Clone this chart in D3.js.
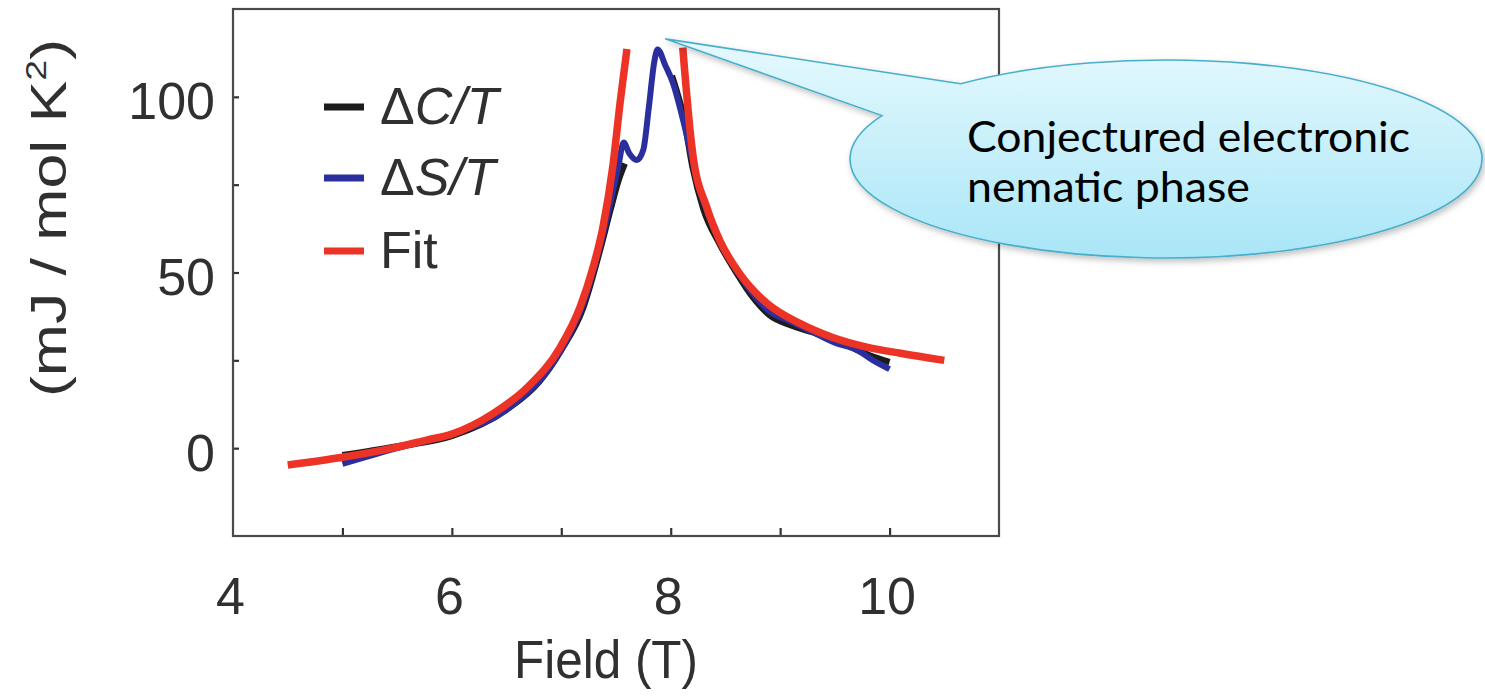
<!DOCTYPE html>
<html><head><meta charset="utf-8">
<script src="https://cdn.jsdelivr.net/npm/d3@7"></script>
<style>html,body{margin:0;padding:0;background:#fff;}</style>
</head><body>
<svg id="chart" width="1485" height="696"></svg>
<script>
// ---- data ----
const xTickLabels = [4, 6, 8, 10];
const xMinorTicks = [5, 6, 7, 8, 9, 10];
const yTickLabels = [0, 50, 100];
const yMinorTicks = [0, 25, 50, 75, 100];

// ΔC/T (null = gap in the measured trace)
const dCField = [5.0, 5.5, 6.0, 6.5, 6.8, 7.0, 7.2, 7.35, 7.45, 7.52, 7.58, null, 8.01, 8.06, 8.12, 8.2, 8.3, 8.45, 8.6, 8.75, 8.9, 9.1, 9.3, 9.5, 9.7, 9.85, 10.0];
const dCValue = [-2.0, 0.5, 3.5, 11, 19, 28, 40, 56, 68, 76, 81, null, 106, 101, 94, 80, 68, 58, 50, 43, 38, 35, 33, 31, 28, 26, 24.5];

const dSField = [5.0, 5.5, 6.0, 6.5, 7.0, 7.2, 7.35, 7.45, 7.52, 7.57, 7.62, 7.69, 7.75, 7.8, 7.85, 7.88, 7.95, 8.02, 8.1, 8.17, 8.25, 8.35, 8.5, 8.7, 8.9, 9.1, 9.3, 9.5, 9.7, 9.85, 10.0];
const dSValue = [-4.5, 0, 4, 11, 28, 41, 57, 70, 80, 87, 84, 82, 85, 97, 110, 113.5, 109, 104, 95, 86, 75, 66, 56, 46, 39, 36, 33, 30, 28, 25, 22.5];

const fitLowField = [4.5, 5.0, 5.5, 5.77, 6.0, 6.38, 6.69, 6.99, 7.17, 7.29, 7.38, 7.47, 7.54, 7.6];
const fitLowValue = [-4.8, -2.6, 0.3, 2.3, 4, 9.9, 17.3, 28.7, 40, 51.4, 62.8, 80, 99, 113.6];
const fitHighField = [8.11, 8.2, 8.33, 8.45, 8.63, 8.88, 9.18, 9.48, 9.8, 10.1, 10.5];
const fitHighValue = [114, 84, 68.5, 59, 49.7, 41.2, 35.5, 31.5, 28.7, 27, 25];

const legendLabels = [["\u0394", "C/T"], ["\u0394", "S/T"], ["Fit", ""]];
const calloutLines = ["Conjectured electronic", "nematic phase"];
const calloutTip = [7.95, 116.5];

// ---- layout ----
const svg = d3.select("#chart");
const L = 233, R = 999, T = 9, B = 536;
const x = d3.scaleLinear().domain([4, 11]).range([L, R]);
const y = d3.scaleLinear().domain([-25, 125]).range([B, T]);
const font = "'Liberation Sans', Arial, sans-serif";
const txt = "#303030";
const colors = {black: "#1c1c1c", blue: "#2b2f9e", red: "#ec3325"};

const zip = (a, b) => a.map((v, i) => [v, b[i]]);
const line = d3.line().defined(d => d[0] !== null && d[1] !== null)
  .x(d => x(d[0])).y(d => y(d[1])).curve(d3.curveMonotoneX);

// axes ticks (inward)
svg.append("g").attr("transform", `translate(0,${B})`)
  .call(d3.axisBottom(x).tickValues(xMinorTicks).tickSize(-8).tickFormat(""))
  .call(g => g.select(".domain").remove())
  .call(g => g.selectAll("line").attr("stroke", "#333").attr("stroke-width", 2.2));
svg.append("g").attr("transform", `translate(${L},0)`)
  .call(d3.axisLeft(y).tickValues(yMinorTicks).tickSize(-6).tickFormat(""))
  .call(g => g.select(".domain").remove())
  .call(g => g.selectAll("line").attr("stroke", "#333").attr("stroke-width", 2.2));

// frame
svg.append("rect").attr("x", L).attr("y", T).attr("width", R - L).attr("height", B - T)
  .attr("fill", "none").attr("stroke", "#4a4a4a").attr("stroke-width", 2.2);

// tick labels
svg.append("g").attr("transform", `translate(0,${B})`)
  .call(d3.axisBottom(x).tickValues(xTickLabels).tickSize(0).tickPadding(0).tickFormat(d3.format("d")))
  .call(g => g.select(".domain").remove())
  .call(g => g.selectAll("text").attr("font-family", font).attr("font-size", 52)
    .attr("fill", txt).attr("dy", null).attr("y", 78).attr("dx", -3));
svg.append("g").attr("transform", `translate(${L},0)`)
  .call(d3.axisLeft(y).tickValues(yTickLabels).tickSize(0).tickPadding(18).tickFormat(d3.format("d")))
  .call(g => g.select(".domain").remove())
  .call(g => g.selectAll("text").attr("font-family", font).attr("font-size", 52)
    .attr("fill", txt).attr("dy", "0.42em"));

// axis titles
svg.append("text").attr("x", 606).attr("y", 678).attr("text-anchor", "middle")
  .attr("font-family", font).attr("font-size", 53).attr("fill", txt)
  .attr("textLength", 184).attr("lengthAdjust", "spacingAndGlyphs").text("Field (T)");
const yt = svg.append("text").attr("transform", "translate(66,218) rotate(-90)")
  .attr("text-anchor", "middle").attr("font-family", font).attr("font-size", 50)
  .attr("fill", txt).attr("textLength", 358).attr("lengthAdjust", "spacingAndGlyphs");
yt.append("tspan").text("(mJ / mol K");
yt.append("tspan").attr("font-size", 30).attr("dy", -20).text("2");
yt.append("tspan").attr("dy", 20).text(")");

// series
const series = [
  {data: zip(dCField, dCValue), color: colors.black, w: 6.5},
  {data: zip(dSField, dSValue), color: colors.blue, w: 6},
  {data: zip(fitLowField, fitLowValue), color: colors.red, w: 7.5},
  {data: zip(fitHighField, fitHighValue), color: colors.red, w: 7.5}
];
svg.append("g").selectAll("path").data(series).join("path")
  .attr("d", d => line(d.data)).attr("fill", "none")
  .attr("stroke", d => d.color).attr("stroke-width", d => d.w)
  .attr("stroke-linecap", "butt").attr("stroke-linejoin", "round");

// legend
const legColors = [colors.black, colors.blue, colors.red];
const legY = [107, 178, 251];
const lg = svg.append("g");
legendLabels.forEach((lab, i) => {
  lg.append("line").attr("x1", 324).attr("x2", 364).attr("y1", legY[i]).attr("y2", legY[i])
    .attr("stroke", legColors[i]).attr("stroke-width", 7);
  const t = lg.append("text").attr("x", 380).attr("y", legY[i] + 17)
    .attr("font-family", font).attr("font-size", 52).attr("fill", txt);
  t.append("tspan").text(lab[0]);
  if (lab[1]) t.append("tspan").attr("font-style", "italic").text(lab[1]);
});

// callout
const defs = svg.append("defs");
const grad = defs.append("linearGradient").attr("id", "cg").attr("x1", 0).attr("y1", 0).attr("x2", 0).attr("y2", 1);
grad.append("stop").attr("offset", "0%").attr("stop-color", "#e6f9fe");
grad.append("stop").attr("offset", "100%").attr("stop-color", "#a9e6f7");
const flt = defs.append("filter").attr("id", "sh").attr("x", "-10%").attr("y", "-10%").attr("width", "130%").attr("height", "140%");
flt.append("feDropShadow").attr("dx", 2).attr("dy", 3).attr("stdDeviation", 3).attr("flood-color", "#000").attr("flood-opacity", 0.25);

const tipX = x(calloutTip[0]), tipY = y(calloutTip[1]);
const cx = 1166, cy = 159, rx = 316, ry = 99;
const a1 = -130.5 * Math.PI / 180, a2 = -154 * Math.PI / 180;
const p1 = [cx + rx * Math.cos(a1), cy + ry * Math.sin(a1)];
const p2 = [cx + rx * Math.cos(a2), cy + ry * Math.sin(a2)];
svg.append("path")
  .attr("d", `M${p1[0]},${p1[1]} L${tipX},${tipY} L${p2[0]},${p2[1]} A${rx},${ry} 0 1 0 ${p1[0]},${p1[1]} Z`)
  .attr("fill", "url(#cg)").attr("stroke", "#4aaecb").attr("stroke-width", 1.6)
  .attr("filter", "url(#sh)");
const cfont = "Lato, 'Open Sans', sans-serif";
const cLens = [443, 283];
calloutLines.forEach((s, i) => {
  svg.append("text").attr("x", 967).attr("y", 152 + i * 50)
    .attr("font-family", cfont).attr("font-size", 42).attr("fill", "#000")
    .attr("textLength", cLens[i]).attr("lengthAdjust", "spacingAndGlyphs").text(s);
});
</script>
</body></html>
